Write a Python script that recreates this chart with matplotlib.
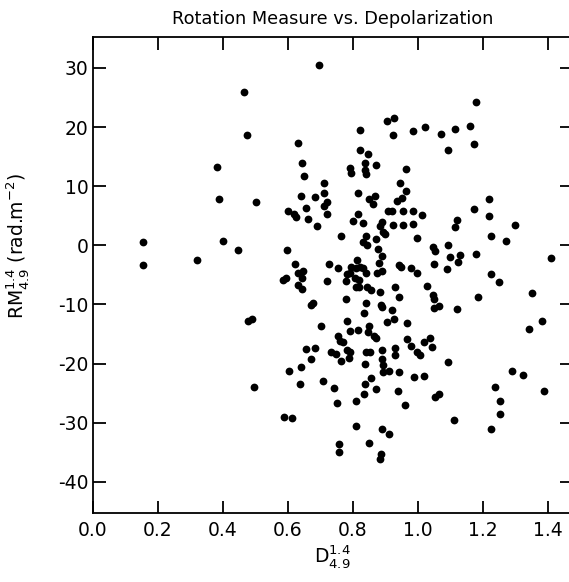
import matplotlib
matplotlib.use("Agg")
import matplotlib.pyplot as plt

# depolarization D(1.4/4.9) and rotation measure RM (rad m^-2)
depol = [
    0.155, 0.155, 0.321, 0.381, 0.389, 0.399, 0.446, 0.466, 0.475, 0.502,
    0.478, 0.490, 0.494,
    0.596, 0.585, 0.593, 0.587, 0.611, 0.604, 0.600, 0.620, 0.626, 0.622,
    0.632, 0.644, 0.650, 0.639, 0.657, 0.662, 0.684, 0.689, 0.632, 0.647,
    0.642, 0.632, 0.642, 0.670, 0.678, 0.701, 0.655, 0.683, 0.670, 0.639,
    0.636, 0.696, 0.711, 0.712, 0.720, 0.711, 0.720, 0.720, 0.726, 0.709,
    0.743, 0.734, 0.747, 0.753, 0.755, 0.760, 0.768, 0.763, 0.752, 0.757,
    0.757, 0.763, 0.790, 0.795, 0.800, 0.795, 0.781, 0.791, 0.778, 0.778,
    0.782, 0.792, 0.781, 0.791, 0.787,
    0.809, 0.822, 0.830, 0.840, 0.813, 0.806, 0.820, 0.809, 0.820, 0.842,
    0.857, 0.839, 0.835, 0.817, 0.849, 0.847, 0.866, 0.871, 0.839, 0.852,
    0.837, 0.857, 0.836, 0.835, 0.870, 0.810, 0.809, 0.848, 0.822, 0.822,
    0.845, 0.838, 0.837, 0.841, 0.870, 0.817, 0.869, 0.849, 0.863, 0.815,
    0.830, 0.839, 0.830, 0.844,
    0.888, 0.883, 0.892, 0.899, 0.872, 0.878, 0.888, 0.879, 0.873, 0.888,
    0.883, 0.885, 0.888, 0.905, 0.889, 0.889, 0.891, 0.893, 0.912, 0.889,
    0.912, 0.886, 0.883, 0.906, 0.927, 0.923, 0.908, 0.920, 0.924,
    0.953, 0.953, 0.984, 0.984, 0.984, 0.963, 0.946, 0.963, 0.935, 0.950,
    0.996, 0.942, 0.948, 0.980, 0.998, 0.930, 0.942, 0.921, 0.927, 0.966,
    0.965, 0.980, 0.996, 1.006, 0.930, 0.930, 0.942, 0.988, 0.940, 0.960,
    1.012, 1.023, 1.071, 1.113, 1.160, 1.094, 1.172, 1.179, 1.218, 1.172,
    1.220, 1.121, 1.115, 1.298, 1.226, 1.271, 1.045, 1.052, 1.094, 1.100,
    1.128, 1.178, 1.411, 1.048, 1.122, 1.088, 1.028, 1.047, 1.049, 1.049,
    1.065, 1.121, 1.184, 1.226, 1.248, 1.352, 1.383, 1.341, 1.036, 1.020,
    1.042, 1.091, 1.018, 1.291, 1.324, 1.237, 1.389, 1.252, 1.052, 1.065,
    1.253, 1.112, 1.224,
]
rm = [
    0.6, -3.4, -2.5, 13.3, 7.8, 0.8, -0.8, 25.9, 18.7, 7.4,
    -12.8, -12.4, -23.9,
    -0.8, -5.9, -5.5, -29.1, -29.2, -21.2, 5.8, 5.3, 4.8, -3.1,
    17.3, 14.0, 11.7, 8.4, 6.3, 4.4, 8.2, 3.3, -4.6, -4.3,
    -5.6, -6.7, -7.4, -10.1, -9.8, -13.7, -17.5, -17.3, -19.2, -20.5,
    -23.5, 30.5, 10.5, 8.9, 7.4, 6.6, 5.3, -6.0, -3.2, -22.9,
    -24.2, -18.0, -18.4, -3.9, -15.4, -16.1, -16.4, -19.5, -26.7, -33.6,
    -35.0, 1.6, 13.0, 12.3, 4.1, -3.7, -4.9, -4.7, -6.0, -9.1,
    -12.8, -14.5, -17.7, -18.0, -19.1,
    -3.9, -3.6, -3.9, -4.7, -2.4, -5.6, -5.8, -7.1, -7.1, -7.0,
    -7.5, -9.8, -11.5, -14.4, -13.7, -14.6, -15.3, -15.7, -18.1, -18.1,
    -20.1, -22.5, -23.4, -25.1, -24.3, -26.4, -30.6, -33.5, 19.5, 16.1,
    15.4, 14.0, 12.7, 12.0, 13.6, 8.9, 8.4, 7.8, 7.0, 5.3,
    3.7, 1.6, 0.5, 0.1,
    3.9, 3.2, 2.2, 1.9, 1.1, -0.7, -1.8, -3.0, -4.7, -4.3,
    -7.9, -10.1, -10.5, -13.0, -17.7, -19.3, -20.2, -21.5, -21.2, -31.0,
    -31.9, -35.3, -36.2, 21.1, 21.5, 18.6, 5.8, 5.8, 3.4,
    5.8, 3.4, 5.8, 3.6, 19.4, 12.9, 10.5, 9.2, 7.5, 8.0,
    1.2, -3.3, -3.6, -3.9, -4.7, -7.0, -8.8, -11.0, -12.5, -13.1,
    -15.8, -17.0, -18.0, -18.5, -17.4, -18.6, -21.4, -22.3, -24.6, -27.0,
    5.1, 20.0, 18.9, 19.7, 20.1, 16.2, 17.2, 24.2, 7.9, 6.1,
    4.9, 4.3, 3.1, 3.4, 1.5, 0.8, -0.3, -0.9, 0.1, -1.9,
    -1.7, -1.5, -2.1, -3.2, -2.8, -4.0, -6.8, -8.4, -9.1, -10.6,
    -10.3, -10.8, -8.8, -4.9, -6.2, -8.0, -12.8, -14.2, -15.7, -16.4,
    -17.2, -19.7, -22.1, -21.3, -21.9, -23.9, -24.7, -26.3, -25.7, -25.1,
    -28.6, -29.6, -31.0,
]

x_ticks = [0.0, 0.2, 0.4, 0.6, 0.8, 1.0, 1.2, 1.4]
y_ticks = [-40, -30, -20, -10, 0, 10, 20, 30]

plt.rcParams['font.family'] = ['DejaVu Sans']
plt.rcParams['mathtext.default'] = 'regular'
plt.rcParams['axes.unicode_minus'] = False

fig = plt.figure(figsize=(5.69, 5.82), dpi=100)
ax = fig.add_axes([0.1634, 0.1186, 0.8418, 0.8179])

ax.plot(depol, rm, 'o', color='black', markersize=5.6, markeredgewidth=0)

ax.set_xlim(0, 1.474)
ax.set_ylim(-45.26, 35.23)
ax.set_xticks(x_ticks)
ax.set_xticklabels([f"{t:.1f}" for t in x_ticks])
ax.set_yticks(y_ticks)
ax.set_yticklabels([str(t) for t in y_ticks])

ax.tick_params(direction='in', length=9, width=1.3, top=True, right=True,
               labelsize=13.5, colors='black')
ax.tick_params(axis='x', pad=6)
ax.tick_params(axis='y', pad=3)
for s in ax.spines.values():
    s.set_linewidth(1.3)

ax.set_title("Rotation Measure vs. Depolarization", fontsize=12.8, pad=9)
ax.set_xlabel(r"D$^{1.4}_{4.9}$", fontsize=13.5, labelpad=2)
ax.set_ylabel(r"RM$^{1.4}_{4.9}$ (rad.m$^{-2}$)", fontsize=13.5, labelpad=4)
ax.yaxis.set_label_coords(-0.13, 0.56)

fig.savefig("out.png", dpi=100)
